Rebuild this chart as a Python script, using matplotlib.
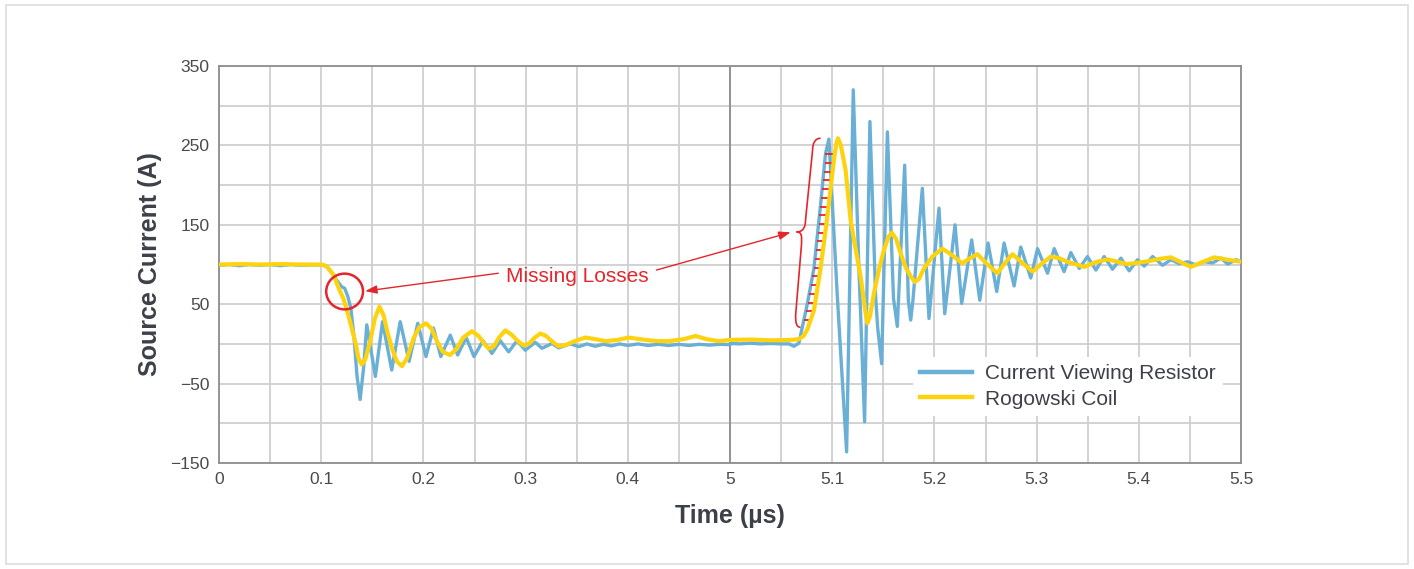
import numpy as np
import matplotlib.pyplot as plt
from matplotlib.patches import Ellipse, Rectangle, PathPatch
from matplotlib.path import Path

plt.rcParams['font.family'] = ['Liberation Sans', 'DejaVu Sans']

# Current Viewing Resistor trace (time in us, current in A)
cvr_t = [0.000, 0.010, 0.020, 0.030, 0.040, 0.050, 0.060, 0.070, 0.080, 0.090,
         0.100, 0.105, 0.110, 0.1153, 0.120, 0.123, 0.126, 0.129, 0.132, 0.135,
         0.1381, 0.1415, 0.1446, 0.153, 0.160, 0.169, 0.1773, 0.186, 0.1945, 0.2025,
         0.2099, 0.2170, 0.2263, 0.2335, 0.2419, 0.2495, 0.2583, 0.2671, 0.2752, 0.2834,
         0.2916, 0.2997, 0.3095, 0.316, 0.3258, 0.3323, 0.3438, 0.352, 0.3601, 0.368,
         0.376, 0.384, 0.392, 0.400, 0.410, 0.420, 0.430, 0.440, 0.450, 0.460,
         0.470, 0.480, 0.490, 0.500,
         5.000, 5.010, 5.020, 5.030, 5.040, 5.050, 5.058, 5.0625, 5.0674, 5.0756,
         5.0821, 5.0886, 5.0935, 5.0968, 5.105, 5.1141, 5.1206, 5.126, 5.1317, 5.1369,
         5.1425, 5.1445, 5.1484, 5.1540, 5.1600, 5.1637, 5.1709, 5.1745, 5.1768, 5.1790,
         5.1882, 5.1947, 5.2045, 5.2101, 5.2202, 5.2267, 5.2365, 5.2444, 5.2525, 5.2610,
         5.2682, 5.2780, 5.2845, 5.2943, 5.3009, 5.3107, 5.3172, 5.3269, 5.3335, 5.3418,
         5.3498, 5.3580, 5.3661, 5.3743, 5.3825, 5.3906, 5.3988, 5.4053, 5.4135, 5.4233,
         5.4314, 5.4396, 5.4478, 5.4559, 5.4641, 5.4723, 5.4804, 5.4870, 5.4951, 5.5000]
cvr_a = [99, 100, 98.5, 100, 99, 100, 98.5, 100, 99, 99.5,
         99.5, 98, 90, 80, 72, 70, 60, 45, 10, -40,
         -70, -30, 24, -41, 28, -33, 28, -22, 26, -16,
         20, -16, 11, -14, 8, -16, 4, -12, 4, -10,
         4, -8, 2, -5.5, 0.5, -5, 0, -3.5, 0, -3,
         -0.5, -2.5, 0, -2, 0, -2, -0.5, -2, -0.5, -2,
         -0.5, -1.5, -0.5, -1,
         0.5, 0, 1, 0, 0.5, 0, 0, -3, 1, 50,
         95, 175, 240, 258, 60, -136, 320, 100, -98, 280,
         60, 20, -25, 267, 57, 22, 225, 55, 30, 55,
         196, 32, 171, 38, 150, 51, 131, 55, 127, 66,
         127, 73, 122, 83, 120, 89, 120, 91, 115, 95,
         110, 93, 110, 94, 108, 92, 106, 98, 110, 99,
         106, 101, 103.5, 99.5, 103.5, 102, 108, 100.5, 106, 104]

# Rogowski Coil trace
rog_t = [0.000, 0.020, 0.040, 0.060, 0.080, 0.098, 0.102, 0.106, 0.112, 0.1185,
         0.1218, 0.1283, 0.1332, 0.1365, 0.1397, 0.1430, 0.1479, 0.1525, 0.157, 0.1610,
         0.1650, 0.1691, 0.1740, 0.179, 0.1840, 0.1903, 0.1960, 0.2025, 0.2080, 0.2130,
         0.2190, 0.2260, 0.2320, 0.2390, 0.2475, 0.2540, 0.2590, 0.2638, 0.2690, 0.2740,
         0.2801, 0.2860, 0.2920, 0.2981, 0.3040, 0.3090, 0.3144, 0.3200, 0.3260, 0.3323,
         0.3400, 0.347, 0.3585, 0.368, 0.378, 0.390, 0.4009, 0.4172, 0.430, 0.440,
         0.455, 0.4662, 0.477, 0.489, 0.500,
         5.000, 5.020, 5.040, 5.060, 5.0674, 5.0720, 5.0756, 5.0821, 5.0886, 5.0952,
         5.1017, 5.1040, 5.1056, 5.1085, 5.1131, 5.118, 5.1213, 5.1278, 5.1320, 5.1344,
         5.1370, 5.1409, 5.1460, 5.1506, 5.1550, 5.1585, 5.1625, 5.167, 5.172, 5.1768,
         5.181, 5.1850, 5.1898, 5.1980, 5.2078, 5.2170, 5.2273, 5.2350, 5.2421, 5.2520,
         5.2617, 5.2690, 5.2764, 5.2860, 5.296, 5.3050, 5.3139, 5.3220, 5.3302, 5.3465,
         5.3580, 5.3694, 5.389, 5.4086, 5.420, 5.4314, 5.441, 5.451, 5.462, 5.4738,
         5.487, 5.500]
rog_a = [100, 100.5, 100, 100.5, 100, 100, 99.5, 97, 87, 66,
         57, 28, 3, -18, -26, -20, 3, 32, 47, 36,
         14, -5, -22, -28, -18, 7, 21, 26, 19, 4,
         -10, -14, -7, 8, 16, 10, 1, -6, -3, 8,
         17, 12, 4, -2, 1, 8, 13, 10, 3, -3,
         -1, 3, 8, 6, 3.5, 5, 8, 5, 3.5, 3.5,
         6, 10, 6, 3.5, 5,
         5, 5.5, 4.5, 5, 6, 10, 18, 42, 95, 160,
         232, 252, 259, 250, 219, 156, 131, 85, 45, 26,
         35, 64, 95, 118, 135, 140, 132, 114, 96, 85,
         78, 82, 95, 110, 120, 112, 101.5, 108, 113, 100,
         89, 102, 113, 102, 91, 101, 110, 108, 103.5, 97,
         103, 106.5, 100.5, 104, 107, 109, 103, 97, 103, 109,
         106, 103.5]

tick_times = [0, 0.1, 0.2, 0.3, 0.4, 5, 5.1, 5.2, 5.3, 5.4, 5.5]
tick_labels = ['0', '0.1', '0.2', '0.3', '0.4', '5', '5.1', '5.2', '5.3', '5.4', '5.5']
y_labels = [-150, -50, 50, 150, 250, 350]

BLUE = '#6aafd6'
YELLOW = '#fdd30f'
RED = '#e3262c'
GRID = '#cfcfcf'
SPINE = '#8e8e8e'
TEXT = '#3d4048'


def squash(t):
    # axis is broken: 0-0.5 us then 5-5.5 us
    t = np.asarray(t, dtype=float)
    return np.where(t >= 5, t - 4.5, t)


fig = plt.figure(figsize=(14.14, 5.69), dpi=100)
fig.patches.append(Rectangle((0.004, 0.008), 0.992, 0.983, transform=fig.transFigure,
                             fill=False, edgecolor='#dddddd', lw=1.2))
ax = fig.add_axes([219 / 1414, 1 - 463 / 569, 1022 / 1414, 397 / 569])

ax.plot(squash(cvr_t), cvr_a, color=BLUE, lw=2.4, label='Current Viewing Resistor',
        zorder=3, solid_joinstyle='round')
ax.plot(squash(rog_t), rog_a, color=YELLOW, lw=3.0, label='Rogowski Coil',
        zorder=4, solid_joinstyle='round')

ax.set_xlim(0, 1.0)
ax.set_ylim(-150, 350)
ax.set_xticks(squash(tick_times))
ax.set_xticklabels(tick_labels)
ax.set_xticks(np.arange(0.05, 1.0, 0.1), minor=True)
ax.set_yticks(y_labels)
ax.set_yticks(np.arange(-100, 350, 100), minor=True)
ax.tick_params(which='both', length=0, labelsize=12.5, labelcolor='#4a4a4a')
ax.tick_params(axis='x', pad=6.5)
ax.tick_params(axis='y', pad=7)
ax.grid(True, which='both', color=GRID, lw=1.3)
ax.set_axisbelow(True)
for s in ax.spines.values():
    s.set_color(SPINE)
    s.set_linewidth(1.3)
ax.axvline(0.5, color=SPINE, lw=1.3, zorder=1.5)

ax.set_xlabel('Time (µs)', fontsize=18, fontweight='bold', color=TEXT, labelpad=12)
ax.set_ylabel('Source Current (A)', fontsize=18, fontweight='bold', color=TEXT, labelpad=6)

# red hatching between the two rising edges
levels = np.arange(30, 250, 11)
cx, ca = squash(cvr_t[72:78]), cvr_a[72:78]
rx, ra = squash(rog_t[69:77]), rog_a[69:77]
ax.hlines(levels, np.interp(levels, ca, cx), np.interp(levels, ra, rx),
          color=RED, lw=1.3, zorder=3.5)

# annotations
ax.add_patch(Ellipse((0.1229, 66), 0.036, 45, fill=False, edgecolor=RED, lw=1.8, zorder=6))
ax.text(0.3506, 85, 'Missing Losses', color=RED, fontsize=15, ha='center', va='center', zorder=6)
arrow = dict(arrowstyle='-|>,head_length=0.7,head_width=0.25', color=RED, lw=1.0,
             shrinkA=0, shrinkB=0)
ax.annotate('', xy=(0.143, 66.5), xytext=(0.2733, 89), arrowprops=arrow, zorder=6)
ax.annotate('', xy=(0.5593, 140.5), xytext=(0.428, 93), arrowprops=arrow, zorder=6)

brace = Path([(0.5886, 259), (0.583, 259), (0.5808, 252), (0.5808, 244),
              (0.5739, 156),
              (0.5739, 148), (0.572, 141), (0.5651, 141),
              (0.571, 141), (0.570, 134), (0.570, 126),
              (0.5642, 36),
              (0.5642, 26), (0.565, 21), (0.569, 21)],
             [Path.MOVETO, Path.CURVE4, Path.CURVE4, Path.CURVE4,
              Path.LINETO,
              Path.CURVE4, Path.CURVE4, Path.CURVE4,
              Path.CURVE4, Path.CURVE4, Path.CURVE4,
              Path.LINETO,
              Path.CURVE4, Path.CURVE4, Path.CURVE4])
ax.add_patch(PathPatch(brace, fill=False, edgecolor=RED, lw=1.2, zorder=6))

leg = ax.legend(loc='upper left', bbox_to_anchor=(0.679, 0.267), fontsize=15,
                frameon=True, facecolor='white', edgecolor='none', framealpha=1,
                fancybox=False, borderaxespad=0, borderpad=0.35, handlelength=2.5,
                handletextpad=0.6, labelspacing=0.3)
for txt in leg.get_texts():
    txt.set_color(TEXT)
for line in leg.get_lines():
    line.set_linewidth(3.2)

fig.savefig('out.png', dpi=100)
